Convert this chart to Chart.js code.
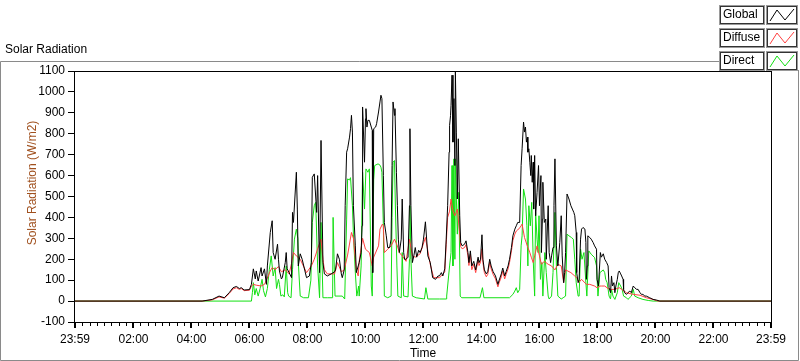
<!DOCTYPE html>
<html>
<head>
<meta charset="utf-8">
<script src="https://cdn.jsdelivr.net/npm/chart.js@4.4.1/dist/chart.umd.min.js"></script>
<style>
html,body{margin:0;padding:0;background:#fff;}
#wrap{position:relative;width:800px;height:361px;}
</style>
</head>
<body>
<div id="wrap"><canvas id="c" width="800" height="361"></canvas></div>
<script>
// Time in minutes after midnight (-1 = 23:59 of previous day)
const xTickValues = [-1,120,240,360,480,600,720,840,960,1080,1200,1320,1439];
const xTickLabels = ["23:59","02:00","04:00","06:00","08:00","10:00","12:00","14:00","16:00","18:00","20:00","22:00","23:59"];
const seriesNames = ["Global","Diffuse","Direct"];

const globalTime = [-1,262,270,283,297,308,318,326,333,339,343,349,360,364,368,372,374,378,384,386,391,395,397,403,407,409,413,418,420,422,426,428,434,436,438,442,447,449,451,457,459,461,465,469,478,484,488,490,494,499,501,505,508,512,515,521,529,536,538,542,546,550,552,556,558,561,563,567,569,571,573,575,579,581,585,
587,591,593,594,598,600,601,603,605,608,612,614,615,617,621,623,627,630,632,634,637,639,643,646,650,653,655,657,660,661,664,666,668,670,674,676,679,681,684,688,691,692,694,697,700,703,706,710,713,717,720,724,729,734,739,745,750,
753,757,760,764,767,770,773,774,776,777,779,781,783,785,786,788,790,792,795,797,800,805,808,812,814,817,820,824,828,833,835,838,841,843,846,850,853,857,860,864,869,874,876,881,884,888,891,895,898,902,905,909,912,915,919,
922,924,927,929,931,933,935,936,938,940,942,943,945,947,948,950,952,955,958,960,963,964,966,967,970,973,974,978,980,983,985,988,990,992,995,998,1002,1005,1007,1010,1012,1014,1017,1021,1025,1028,1031,1033,1036,1037,1040,1042,1045,1047,1050,1054,1056,1057,1059,1060,1064,1067,1071,1074,1078,1079,1082,
1086,1088,1092,1095,1099,1102,1104,1107,1109,1111,1114,1116,1118,1121,1123,1125,1128,1130,1133,1134,1136,1140,1143,1147,1150,1154,1157,1161,1164,1168,1171,1174,1178,1181,1188,1195,1202,1209,1439];
const globalValue = [0,0,3,8,24,16,40,64,70,60,64,53,55,80,154,106,144,96,160,120,154,80,168,328,384,232,200,272,200,144,106,112,184,232,154,136,112,424,376,616,440,168,226,200,112,120,184,592,608,424,600,136,768,184,130,120,130,140,149,226,200,130,112,149,456,712,728,784,824,888,808,456,264,136,168,
184,232,360,928,664,872,920,832,864,864,832,816,136,824,832,848,904,952,984,968,600,376,312,256,256,296,648,952,888,920,616,456,296,232,296,488,232,200,200,210,456,824,456,184,216,256,210,243,232,256,296,379,216,184,112,104,120,
120,136,120,154,296,456,712,840,888,936,1080,760,968,648,1096,808,488,776,408,280,264,272,288,232,184,240,168,190,149,210,184,200,317,200,149,130,141,200,168,141,120,80,96,130,158,120,141,168,200,256,312,344,360,376,376,
648,728,856,808,832,760,784,712,728,664,600,696,568,664,440,696,408,520,648,456,600,232,392,568,376,392,200,456,232,184,216,256,456,680,264,168,280,408,216,88,136,232,512,488,456,440,424,408,328,136,88,104,296,344,352,344,280,104,168,312,304,296,280,264,248,104,72,
232,210,226,200,184,168,64,40,120,72,88,40,72,104,136,144,130,120,104,56,40,32,40,48,40,72,64,56,56,40,32,32,24,24,16,8,5,0,0];

const diffuseTime = [-1,262,270,283,297,308,318,326,333,339,343,349,360,364,368,374,384,391,397,403,407,413,420,426,434,442,447,451,457,465,478,488,494,501,508,512,515,521,536,542,550,556,563,571,575,579,581,585,
587,594,600,608,614,617,627,630,635,637,639,646,653,660,666,670,676,684,691,697,703,713,724,734,741,753,
757,764,767,770,774,777,781,785,790,795,797,800,805,808,812,814,817,820,824,828,833,835,838,841,843,846,850,853,857,860,864,869,874,876,881,884,888,891,895,898,902,905,909,912,915,919,
922,924,929,936,940,943,947,950,955,960,964,970,978,985,992,998,1005,1010,1014,1025,1033,1037,1042,1047,1057,1064,1074,1079,1085,
1088,1095,1102,1107,1116,1125,1130,1140,1154,1168,1181,1195,1205,1439];
const diffuseValue = [0,0,2,6,20,14,36,58,64,56,60,50,52,72,80,76,72,80,110,144,160,150,165,140,150,130,180,232,216,200,136,168,200,250,296,200,150,130,130,184,140,149,220,328,300,200,149,120,
190,300,248,232,168,210,264,344,368,360,232,248,264,296,264,232,216,190,296,216,210,226,304,176,112,112,
120,140,270,400,430,488,430,408,440,320,260,250,256,270,216,170,224,150,176,136,196,170,186,250,184,136,116,128,186,154,128,106,68,84,116,144,106,128,154,184,240,290,320,335,340,350,
360,368,304,256,232,210,184,216,264,216,176,190,176,168,149,176,168,88,149,136,120,112,90,104,80,80,72,64,72,
72,72,60,56,56,64,56,40,32,28,16,8,0,0];

const directTime = [-1,364,366,368,371,374,378,382,386,389,393,397,401,405,409,413,416,420,
422,425,429,432,436,439,441,446,449,453,457,460,461,465,472,482,487,490,494,497,501,505,508,512,521,532,533,535,537,552,557,561,563,567,569,573,575,579,582,586,
587,591,594,598,601,605,608,612,614,617,619,626,630,632,634,637,639,646,653,655,657,660,662,665,667,674,676,679,688,691,692,694,697,705,722,725,729,753,
767,768,772,774,777,779,781,783,785,786,790,793,796,799,837,842,845,898,905,909,912,915,919,
922,924,927,931,934,936,938,941,944,947,950,952,955,957,959,962,965,967,971,974,978,980,985,988,992,995,998,1005,1009,1014,1017,1021,1026,1030,1033,1036,1040,1042,1045,1048,1052,1056,1058,1062,1067,1074,1078,1081,1085,
1092,1095,1097,1100,1104,1107,1109,1112,1116,1121,1124,1128,1131,1134,1140,1143,1150,1154,1157,1164,1174,1185,1195,1439];
const directValue = [0,0,40,88,30,60,24,60,104,50,20,60,150,216,120,160,60,104,
80,24,30,20,168,40,24,16,150,296,344,300,184,24,16,16,100,376,456,472,168,16,376,16,16,16,400,200,24,24,10,392,584,579,590,456,320,136,24,72,
24,168,616,440,632,616,632,72,24,580,648,656,650,640,616,360,24,16,24,400,664,672,440,168,24,16,232,24,20,200,456,200,24,16,10,64,10,10,
10,24,120,168,232,648,168,680,200,680,320,520,24,16,16,64,16,16,32,48,64,40,56,
264,312,536,488,360,168,456,360,472,200,24,424,296,232,408,104,184,24,232,136,24,10,24,136,424,168,24,10,16,24,320,312,304,296,200,88,24,24,248,200,232,88,24,240,224,208,168,24,136,
149,136,104,88,24,10,56,24,8,40,88,72,56,24,16,8,24,56,24,16,8,3,0,0];

const seriesColors = ["#000000","#ff4040","#12e012"];
const labelFont = "'Liberation Sans', Arial, sans-serif";

function pts(t, v){ return t.map((x,i)=>({x:x, y:v[i]})); }

const framePlugin = {
  id:'frame',
  beforeDraw(chart){
    const ctx = chart.ctx;
    ctx.save();
    ctx.fillStyle = '#fff';
    ctx.fillRect(0,0,chart.width,chart.height);
    ctx.strokeStyle = '#8a8a8a';
    ctx.lineWidth = 1;
    ctx.beginPath();
    ctx.moveTo(0.5,360.5); ctx.lineTo(0.5,61.5); ctx.lineTo(719,61.5);
    ctx.moveTo(798.5,70); ctx.lineTo(798.5,360.5); ctx.lineTo(0.5,360.5);
    ctx.stroke();
    ctx.restore();
  },
  afterDraw(chart){
    const ctx = chart.ctx;
    const a = chart.chartArea;
    const xs = chart.scales.x;
    ctx.save();
    ctx.strokeStyle = '#000';
    ctx.lineWidth = 1;
    ctx.strokeRect(Math.round(a.left)-0.5, Math.round(a.top)+0.5, Math.round(a.right-a.left)+1, Math.round(a.bottom-a.top));
    ctx.beginPath();
    for (let m = -1; m <= 1439; m += 15) {
      const px = Math.round(xs.getPixelForValue(m)) + 0.5;
      ctx.moveTo(px, a.bottom+1); ctx.lineTo(px, a.bottom+4);
    }
    ctx.stroke();
    ctx.lineWidth = 2;
    ctx.beginPath();
    xTickValues.forEach(m=>{
      const px = Math.round(xs.getPixelForValue(m));
      ctx.moveTo(px, a.bottom+1); ctx.lineTo(px, a.bottom+6);
    });
    ctx.stroke();
    ctx.fillStyle = '#000';
    ctx.font = "12px " + labelFont;
    ctx.textBaseline = 'middle';
    ctx.textAlign = 'left';
    ctx.fillText("Solar Radiation", 5, 50);
    ctx.textAlign = 'center';
    ctx.fillText("Time", (a.left+a.right)/2, 354);
    ctx.save();
    ctx.translate(33, 183);
    ctx.rotate(-Math.PI/2);
    ctx.fillStyle = '#a0501e';
    ctx.fillText("Solar Radiation (W/m2)", 0, 0);
    ctx.restore();
    const rows = [5, 28, 51];
    seriesNames.forEach((name,i)=>{
      const y0 = rows[i];
      ctx.fillStyle = '#fff';
      ctx.fillRect(719, y0, 46, 20);
      ctx.fillRect(767, y0, 31, 20);
      ctx.lineWidth = 1;
      ctx.strokeStyle = '#9a9a9a';
      ctx.strokeRect(719.5, y0+0.5, 45, 19);
      ctx.strokeStyle = '#333';
      ctx.strokeRect(720.5, y0+1.5, 43, 17);
      ctx.strokeStyle = '#9a9a9a';
      ctx.strokeRect(766.5, y0+0.5, 31, 19);
      ctx.strokeStyle = '#333';
      ctx.strokeRect(767.5, y0+1.5, 29, 17);
      ctx.fillStyle = '#000';
      ctx.textAlign = 'left';
      ctx.fillText(name, 723, y0+10);
      ctx.strokeStyle = seriesColors[i];
      ctx.beginPath();
      ctx.moveTo(770, y0+16); ctx.lineTo(777, y0+5); ctx.lineTo(785, y0+15); ctx.lineTo(794, y0+4);
      ctx.stroke();
    });
    ctx.restore();
  }
};

Chart.defaults.font.family = labelFont;
Chart.defaults.font.size = 12;
Chart.defaults.color = '#000';

new Chart(document.getElementById('c'), {
  type:'line',
  data:{
    datasets:[
      {label:seriesNames[0], data:pts(globalTime, globalValue), borderColor:seriesColors[0], borderWidth:1, pointRadius:0, tension:0, order:0},
      {label:seriesNames[1], data:pts(diffuseTime, diffuseValue), borderColor:seriesColors[1], borderWidth:1, pointRadius:0, tension:0, order:1},
      {label:seriesNames[2], data:pts(directTime, directValue), borderColor:seriesColors[2], borderWidth:1, pointRadius:0, tension:0, order:2}
    ]
  },
  options:{
    responsive:false,
    animation:false,
    events:[],
    layout:{padding:{left:0, top:71, right:29, bottom:0}},
    plugins:{legend:{display:false}, tooltip:{enabled:false}, title:{display:false}},
    scales:{
      x:{
        type:'linear', min:-1, max:1439,
        afterBuildTicks(s){ s.ticks = xTickValues.map(v=>({value:v})); },
        afterFit(s){ s.height = 39; },
        ticks:{
          autoSkip:false, maxRotation:0, padding:4,
          callback(v){ const i = xTickValues.indexOf(v); return i>=0 ? xTickLabels[i] : ''; }
        },
        grid:{drawOnChartArea:false, drawTicks:true, tickLength:6, color:'rgba(0,0,0,0)'},
        border:{display:false}
      },
      y:{
        min:-100, max:1100,
        afterFit(s){ s.width = 75; },
        ticks:{stepSize:100, padding:3, callback(v){ return String(v); }},
        grid:{drawOnChartArea:false, drawTicks:true, tickLength:7, color:'#000'},
        border:{display:false}
      }
    }
  },
  plugins:[framePlugin]
});
</script>
</body>
</html>
